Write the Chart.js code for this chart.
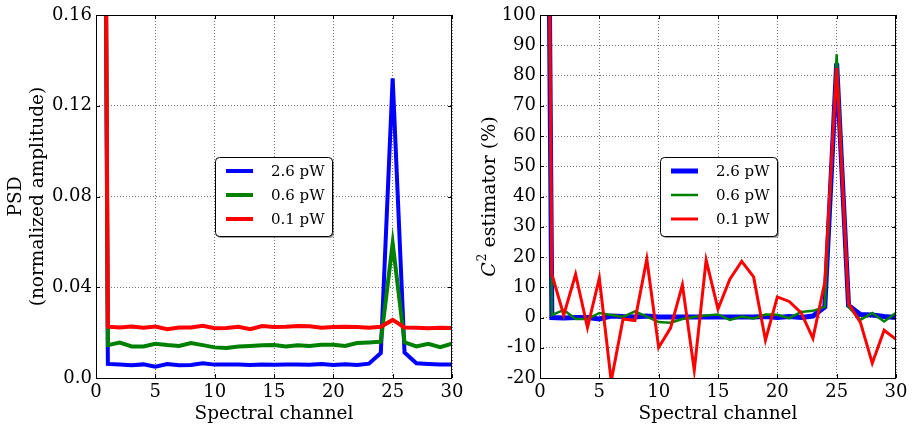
<!DOCTYPE html>
<html><head><meta charset="utf-8">
<script src="https://cdn.jsdelivr.net/npm/chart.js@4"></script>
<style>
html,body{margin:0;padding:0;background:#fff;width:913px;height:429px;overflow:hidden;position:relative}
#c1{position:absolute;left:0;top:0;width:480px;height:429px}
#c2{position:absolute;left:470px;top:0;width:443px;height:429px}
</style></head><body>
<canvas id="c1" width="480" height="429"></canvas>
<canvas id="c2" width="443" height="429"></canvas>
<script>
// ---- data ----
const channels = [0,1,2,3,4,5,6,7,8,9,10,11,12,13,14,15,16,17,18,19,20,21,22,23,24,25,26,27,28,29,30];
const seriesLabels = ['2.6 pW','0.6 pW','0.1 pW'];
const seriesColors = ['#0000ff','#008000','#ff0000'];

const psd26 = [1.0,0.0062,0.0060,0.0056,0.0060,0.0050,0.0062,0.0056,0.0057,0.0065,0.0059,0.0059,0.0059,0.0057,0.0059,0.0058,0.0059,0.0059,0.0058,0.0062,0.0057,0.0061,0.0057,0.0063,0.0110,0.1321,0.0112,0.0065,0.0062,0.0060,0.0059];
const psd06 = [1.0,0.0145,0.0156,0.0139,0.0139,0.0151,0.0145,0.0141,0.0154,0.0145,0.0135,0.0132,0.0139,0.0141,0.0144,0.0145,0.0139,0.0144,0.0141,0.0147,0.0147,0.0141,0.0154,0.0157,0.0160,0.0594,0.0157,0.0139,0.0151,0.0136,0.0151];
const psd01 = [1.0,0.0226,0.0223,0.0227,0.0222,0.0227,0.0215,0.0223,0.0223,0.0230,0.0219,0.0220,0.0226,0.0215,0.0229,0.0225,0.0226,0.0229,0.0228,0.0222,0.0225,0.0226,0.0225,0.0222,0.0226,0.0256,0.0223,0.0222,0.0219,0.0222,0.0220];

const c2est26 = [500,0,-0.2,0,0,-0.5,0.5,0.3,0.2,0.5,0.2,0.2,0.2,0.2,0.2,0.2,0.2,0.2,0.2,0.3,0,0.3,0,0.5,3.5,84,4,1,0.8,0.3,0];
const c2est06 = [500,0.8,2.5,-0.5,-0.5,1.5,0.8,0.2,2,0.3,-1.5,-1.7,-0.5,0.2,0.7,1.0,-0.8,0.3,-0.3,1.0,0.9,-0.2,1.8,2.2,3.5,87,3.5,-0.8,1.5,-1.3,1.6];
const c2est01 = [500,14.3,0.8,14.3,-3.3,13,-21,-0.5,-1,19.3,-9.9,-3.5,10.8,-17.4,19,2.8,12.7,18.6,13.4,-7.5,6.8,5.3,1.6,-6.9,11.6,82.5,4.6,-1.6,-15.1,-4.2,-7.2];

const xTicks = [0,5,10,15,20,25,30];
const leftYTickLabels = ['0.0','0.04','0.08','0.12','0.16'];
const rightYTicks = [-20,-10,0,10,20,30,40,50,60,70,80,90,100];

const FONT = "'DejaVu Serif', serif";

function pts(ys){ return ys.map((y,i)=>({x:channels[i], y:y})); }

function roundRect(ctx,x,y,w,h,r){
  ctx.beginPath();
  ctx.moveTo(x+r,y); ctx.lineTo(x+w-r,y); ctx.quadraticCurveTo(x+w,y,x+w,y+r);
  ctx.lineTo(x+w,y+h-r); ctx.quadraticCurveTo(x+w,y+h,x+w-r,y+h);
  ctx.lineTo(x+r,y+h); ctx.quadraticCurveTo(x,y+h,x,y+h-r);
  ctx.lineTo(x,y+r); ctx.quadraticCurveTo(x,y,x+r,y); ctx.closePath();
}

const decoPlugin = {
  id:'deco',
  afterDraw(chart, args, opts){
    const {ctx, chartArea:a} = chart;
    ctx.save();
    // frame
    ctx.strokeStyle='#000'; ctx.lineWidth=1; ctx.setLineDash([]);
    ctx.strokeRect(Math.round(a.left)+0.5, Math.round(a.top)+0.5, Math.round(a.right-a.left)-1, Math.round(a.bottom-a.top));
    // inward ticks
    const xs = chart.scales.x, ys = chart.scales.y;
    ctx.beginPath();
    xs.ticks.forEach(t=>{ const px=Math.round(xs.getPixelForValue(t.value))+0.5;
      ctx.moveTo(px,a.bottom); ctx.lineTo(px,a.bottom-4); ctx.moveTo(px,a.top); ctx.lineTo(px,a.top+4); });
    ys.ticks.forEach(t=>{ const py=Math.round(ys.getPixelForValue(t.value))+0.5;
      ctx.moveTo(a.left,py); ctx.lineTo(a.left+4,py); ctx.moveTo(a.right,py); ctx.lineTo(a.right-4,py); });
    ctx.stroke();
    // legend
    const L = opts.legend;
    const lx = a.left + L.dx, ly = a.top + L.dy, w = 117, h = 79;
    ctx.fillStyle='rgba(0,0,0,0.35)'; roundRect(ctx,lx+2,ly+2,w,h,4); ctx.fill();
    ctx.fillStyle='#fff'; roundRect(ctx,lx,ly,w,h,4); ctx.fill();
    ctx.strokeStyle='#000'; ctx.lineWidth=1; roundRect(ctx,lx+0.5,ly+0.5,w,h,4); ctx.stroke();
    ctx.font = '15px '+FONT; ctx.textBaseline='middle'; ctx.textAlign='left';
    seriesLabels.forEach((lab,i)=>{
      const ds = chart.data.datasets[i];
      const yy = ly + 14 + i*24;
      ctx.strokeStyle = ds.borderColor; ctx.lineWidth = ds.borderWidth; ctx.lineCap='butt';
      ctx.beginPath(); ctx.moveTo(lx+11,yy); ctx.lineTo(lx+38,yy); ctx.stroke();
      ctx.fillStyle='#000'; ctx.fillText(lab, lx+56, yy+1);
    });
    // custom y title (right chart)
    if (opts.c2title){
      const cy = (a.top+a.bottom)/2, cx = opts.c2title.x;
      ctx.translate(cx, cy); ctx.rotate(-Math.PI/2);
      ctx.fillStyle='#000'; ctx.textBaseline='middle';
      const f1 = 'italic 19px '+FONT, f2 = '12px '+FONT, f3 = '19px '+FONT;
      ctx.font=f1; const w1=ctx.measureText('C').width;
      ctx.font=f2; const w2=ctx.measureText('2').width;
      ctx.font=f3; const t3=' estimator (%)'; const w3=ctx.measureText(t3).width;
      let x0 = -(w1+w2+1+w3)/2;
      ctx.font=f1; ctx.fillText('C',x0,0); x0+=w1+1;
      ctx.font=f2; ctx.fillText('2',x0,-7); x0+=w2;
      ctx.font=f3; ctx.fillText(t3,x0,0);
    }
    ctx.restore();
  }
};

function makeDatasets(arrs, widths){
  return arrs.map((arr,i)=>({
    label: seriesLabels[i], data: pts(arr), borderColor: seriesColors[i], backgroundColor: seriesColors[i],
    borderWidth: widths[i], pointRadius:0, tension:0, fill:false, order: 2-i,
    borderJoinStyle:'miter', borderCapStyle:'butt'
  }));
}

const gridOpts = {color:'rgba(0,0,0,0.55)', lineWidth:1, drawTicks:false};
const borderOpts = {display:false, dash:[1,2]};

function xScale(){
  return {
    type:'linear', min:0, max:30,
    afterBuildTicks: s => { s.ticks = xTicks.map(v=>({value:v})); },
    afterFit: s => { s.height = 51; },
    grid: gridOpts, border: borderOpts,
    ticks:{ color:'#000', font:{family:FONT,size:18}, padding:4, maxRotation:0, autoSkip:false },
    title:{ display:true, text:'Spectral channel', color:'#000', font:{family:FONT,size:18.5,lineHeight:1.2}, padding:{top:0,bottom:4} }
  };
}

new Chart(document.getElementById('c1'), {
  type:'line',
  data:{ datasets: makeDatasets([psd26, psd06, psd01],[4,4,4]) },
  options:{
    responsive:false, animation:false, devicePixelRatio:1,
    layout:{ padding:{left:0, top:15, right:28, bottom:0} },
    plugins:{ legend:{display:false}, tooltip:{enabled:false},
      deco:{ legend:{dx:119, dy:142} } },
    scales:{
      x: xScale(),
      y:{ type:'linear', min:0, max:0.16,
        afterBuildTicks: s => { s.ticks = leftYTickLabels.map(t=>({value:parseFloat(t)})); },
        afterFit: s => { s.width = 96; },
        grid: gridOpts, border: borderOpts,
        ticks:{ color:'#000', font:{family:FONT,size:18}, padding:4,
          callback:(v,i)=>leftYTickLabels[i] },
        title:{ display:true, text:['PSD','(normalized amplitude)'], color:'#000', font:{family:FONT,size:18.5,lineHeight:1.18}, padding:{top:5,bottom:0} }
      }
    }
  },
  plugins:[decoPlugin]
});

new Chart(document.getElementById('c2'), {
  type:'line',
  data:{ datasets: makeDatasets([c2est26, c2est06, c2est01],[5,2.5,3]) },
  options:{
    responsive:false, animation:false, devicePixelRatio:1,
    layout:{ padding:{left:0, top:15, right:17, bottom:0} },
    plugins:{ legend:{display:false}, tooltip:{enabled:false},
      deco:{ legend:{dx:120, dy:142}, c2title:{x:20} } },
    scales:{
      x: xScale(),
      y:{ type:'linear', min:-20, max:100,
        afterBuildTicks: s => { s.ticks = rightYTicks.map(v=>({value:v})); },
        afterFit: s => { s.width = 70; },
        grid: gridOpts, border: borderOpts,
        ticks:{ color:'#000', font:{family:FONT,size:18}, padding:4 },
        title:{ display:false }
      }
    }
  },
  plugins:[decoPlugin]
});
</script>
</body></html>
